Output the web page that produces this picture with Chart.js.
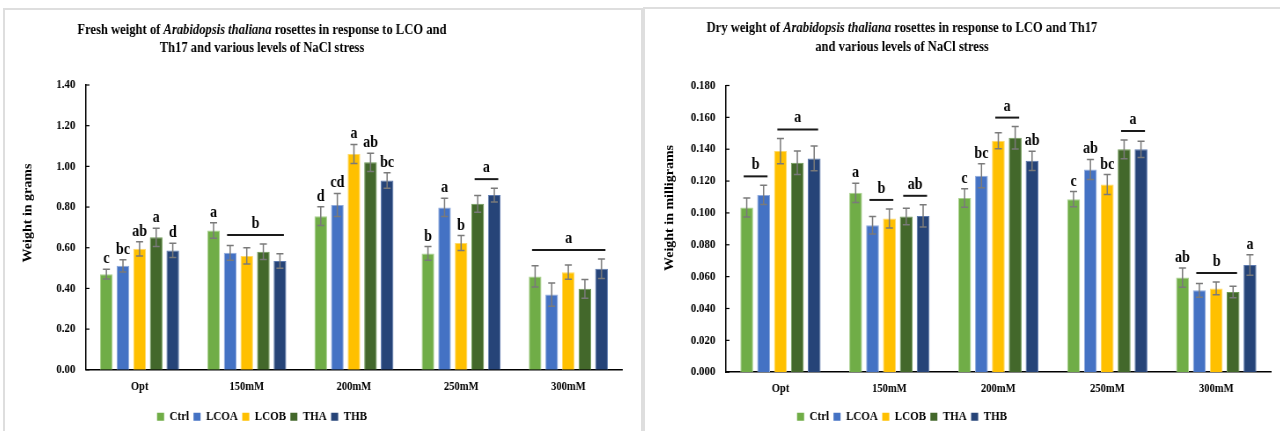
<!DOCTYPE html>
<html lang="en">
<head>
    <meta charset="UTF-8" />
    <title>Arabidopsis rosette weight under NaCl stress</title>
    <script src="https://cdn.jsdelivr.net/npm/chart.js"></script>
    <style>
        body { margin: 0; background: #fff; width: 1280px; height: 431px; overflow: hidden; position: relative; }
        .panel { position: absolute; box-sizing: border-box; border: 2px solid #dedede; border-bottom: none; overflow: hidden; background: #fff; }
        #leftPanel { left: 3px; top: 8px; width: 640px; height: 423px; }
        #rightPanel { left: 643px; top: 7px; width: 640px; height: 424px; border-right: none; }
        /* the original figure is squeezed horizontally, so the canvases are too */
        canvas { position: absolute; left: 0; top: 0; transform: scaleX(0.88); transform-origin: 0 0; }
    </style>
</head>
<body>
<div class="panel" id="leftPanel"><canvas id="freshChart" width="723" height="423"></canvas></div>
<div class="panel" id="rightPanel"><canvas id="dryChart" width="722" height="424"></canvas></div>

<script>
    const SERIF = "'Liberation Serif', 'Times New Roman', serif";

    const categories = ['Opt', '150mM', '200mM', '250mM', '300mM'];
    const seriesNames = ['Ctrl', 'LCOA', 'LCOB', 'THA', 'THB'];
    const seriesColors = ['#70AD47', '#4472C4', '#FFC000', '#43682B', '#264478'];
    const seriesEdges = ['#A9D18E', '#8FAADC', '#FFD966', '#6E9A55', '#5A78AE'];

    // fresh weight (g)
    const freshCtrl = [0.470, 0.685, 0.755, 0.572, 0.459];
    const freshLCOA = [0.511, 0.575, 0.810, 0.798, 0.370];
    const freshLCOB = [0.595, 0.560, 1.061, 0.623, 0.480];
    const freshTHA  = [0.651, 0.580, 1.020, 0.816, 0.398];
    const freshTHB  = [0.587, 0.535, 0.931, 0.859, 0.497];

    const freshCtrlErr = [0.024, 0.038, 0.046, 0.034, 0.052];
    const freshLCOAErr = [0.030, 0.036, 0.057, 0.045, 0.057];
    const freshLCOBErr = [0.035, 0.040, 0.047, 0.037, 0.035];
    const freshTHAErr  = [0.045, 0.038, 0.045, 0.041, 0.046];
    const freshTHBErr  = [0.035, 0.036, 0.038, 0.034, 0.048];

    const freshCtrlLetters = ['c', 'a', 'd', 'b', ''];
    const freshLCOALetters = ['bc', '', 'cd', 'a', ''];
    const freshLCOBLetters = ['ab', '', 'a', 'b', ''];
    const freshTHALetters  = ['a', '', 'ab', '', ''];
    const freshTHBLetters  = ['d', '', 'bc', '', ''];

    // bars sharing one letter: category, first series, last series
    const freshGroups = [
        { cat: 1, from: 1, to: 4, label: 'b' },
        { cat: 3, from: 3, to: 4, label: 'a' },
        { cat: 4, from: 0, to: 4, label: 'a' }
    ];

    // dry weight (mg)
    const dryCtrl = [0.1034, 0.1126, 0.1094, 0.1086, 0.0594];
    const dryLCOA = [0.1113, 0.0923, 0.1233, 0.1273, 0.0514];
    const dryLCOB = [0.1388, 0.0965, 0.1453, 0.1178, 0.0526];
    const dryTHA  = [0.1315, 0.0977, 0.1472, 0.1399, 0.0503];
    const dryTHB  = [0.1342, 0.0981, 0.1327, 0.1399, 0.0673];

    const dryCtrlErr = [0.0060, 0.0060, 0.0058, 0.0048, 0.0060];
    const dryLCOAErr = [0.0060, 0.0055, 0.0075, 0.0063, 0.0043];
    const dryLCOBErr = [0.0080, 0.0060, 0.0050, 0.0063, 0.0040];
    const dryTHAErr  = [0.0074, 0.0052, 0.0070, 0.0059, 0.0036];
    const dryTHBErr  = [0.0078, 0.0070, 0.0060, 0.0051, 0.0064];

    const dryCtrlLetters = ['', 'a', 'c', 'c', 'ab'];
    const dryLCOALetters = ['', '', 'bc', 'ab', ''];
    const dryLCOBLetters = ['', '', '', 'bc', ''];
    const dryTHALetters  = ['', '', '', '', ''];
    const dryTHBLetters  = ['', '', 'ab', '', 'a'];

    const dryGroups = [
        { cat: 0, from: 0, to: 1, label: 'b' },
        { cat: 0, from: 2, to: 4, label: 'a' },
        { cat: 1, from: 1, to: 2, label: 'b' },
        { cat: 1, from: 3, to: 4, label: 'ab' },
        { cat: 2, from: 2, to: 3, label: 'a' },
        { cat: 3, from: 3, to: 4, label: 'a' },
        { cat: 4, from: 1, to: 3, label: 'b' }
    ];

    const freshTitle = [
        [['Fresh weight of ', false], ['Arabidopsis thaliana', true], [' rosettes in response to LCO and', false]],
        [['Th17 and various levels of NaCl stress', false]]
    ];
    const dryTitle = [
        [['Dry weight of ', false], ['Arabidopsis thaliana', true], [' rosettes in response to LCO and Th17', false]],
        [['and various levels of NaCl stress', false]]
    ];

    // error bars, letters, group lines, inside y ticks, title and y title
    function makeMarks(spec) {
        return {
            id: 'marks',
            afterLayout(chart) {
                // legend sits under the title, not under the plot
                const lg = chart.legend;
                lg.left = 0;
                lg.right = 2 * spec.centerX;
                lg.width = lg.right;
            },
            afterDatasetsDraw(chart) {
                const ctx = chart.ctx;
                const y = chart.scales.y;
                const sets = chart.data.datasets;
                const bars = sets.map((ds, i) => chart.getDatasetMeta(i).data);
                const errTop = (i, j) => y.getPixelForValue(sets[i].data[j] + sets[i].errors[j]);

                ctx.save();
                ctx.strokeStyle = '#7a7a7a';
                ctx.lineWidth = 1.5;
                sets.forEach((ds, i) => {
                    bars[i].forEach((bar, j) => {
                        const t = errTop(i, j);
                        const b = y.getPixelForValue(ds.data[j] - ds.errors[j]);
                        ctx.beginPath();
                        ctx.moveTo(bar.x, t); ctx.lineTo(bar.x, b);
                        ctx.moveTo(bar.x - 4, t); ctx.lineTo(bar.x + 4, t);
                        ctx.moveTo(bar.x - 4, b); ctx.lineTo(bar.x + 4, b);
                        ctx.stroke();
                    });
                });

                ctx.fillStyle = '#000';
                ctx.font = 'bold 16px ' + SERIF;
                ctx.textAlign = 'center';
                ctx.textBaseline = 'alphabetic';
                sets.forEach((ds, i) => {
                    bars[i].forEach((bar, j) => {
                        if (ds.letters[j]) ctx.fillText(ds.letters[j], bar.x, errTop(i, j) - 6);
                    });
                });

                ctx.strokeStyle = '#1a1a1a';
                ctx.lineWidth = 2;
                spec.groups.forEach(g => {
                    let top = Infinity;
                    for (let k = g.from; k <= g.to; k++) top = Math.min(top, errTop(k, g.cat));
                    const ly = top - 9;
                    const x1 = bars[g.from][g.cat].x - 3.5;
                    const x2 = bars[g.to][g.cat].x + 4.5;
                    ctx.beginPath();
                    ctx.moveTo(x1, ly); ctx.lineTo(x2, ly);
                    ctx.stroke();
                    ctx.fillText(g.label, (x1 + x2) / 2, ly - 7);
                });

                // short tick marks pointing into the plot
                ctx.strokeStyle = '#000';
                ctx.lineWidth = 1.2;
                y.ticks.forEach(t => {
                    const py = y.getPixelForValue(t.value);
                    ctx.beginPath();
                    ctx.moveTo(y.right, py); ctx.lineTo(y.right + 4, py);
                    ctx.stroke();
                });
                ctx.restore();
            },
            afterDraw(chart) {
                const ctx = chart.ctx;
                ctx.save();
                ctx.fillStyle = '#000';
                ctx.textAlign = 'left';
                ctx.textBaseline = 'middle';
                spec.title.forEach((parts, li) => {
                    const fonts = parts.map(p => (p[1] ? 'italic ' : '') + 'bold 14.3px ' + SERIF);
                    const widths = parts.map((p, k) => { ctx.font = fonts[k]; return ctx.measureText(p[0]).width; });
                    let x = spec.centerX - widths.reduce((a, b) => a + b, 0) / 2;
                    parts.forEach((p, k) => {
                        ctx.font = fonts[k];
                        ctx.fillText(p[0], x, spec.titleY[li]);
                        x += widths[k];
                    });
                });

                ctx.translate(spec.yTitleX, spec.yTitleY);
                ctx.rotate(-Math.PI / 2);
                ctx.textAlign = 'center';
                ctx.font = 'bold 14px ' + SERIF;
                ctx.fillText(spec.yTitle, 0, 0);
                ctx.restore();
            }
        };
    }

    function buildChart(id, spec) {
        const datasets = seriesNames.map((name, i) => ({
            label: name,
            data: spec.values[i],
            errors: spec.errors[i],
            letters: spec.letters[i],
            backgroundColor: seriesColors[i],
            borderColor: seriesEdges[i],
            borderWidth: 1,
            barPercentage: 0.76,
            categoryPercentage: 0.774
        }));
        const boldFont = size => ({ family: SERIF, weight: 'bold', size: size });

        return new Chart(document.getElementById(id), {
            type: 'bar',
            data: { labels: categories, datasets: datasets },
            options: {
                responsive: false,
                animation: false,
                devicePixelRatio: 1,
                layout: { padding: { top: spec.padTop, right: spec.padRight, bottom: 0, left: 0 } },
                scales: {
                    x: {
                        grid: { display: false, drawTicks: false },
                        border: { display: true, color: '#000', width: 1.5 },
                        ticks: { color: '#000', font: boldFont(12), padding: 10 },
                        afterFit: s => { s.height = spec.xHeight; }
                    },
                    y: {
                        min: 0,
                        max: spec.yMax,
                        grid: { display: false, drawTicks: false },
                        border: { display: true, color: '#000', width: 1.5 },
                        ticks: {
                            stepSize: spec.yStep,
                            color: '#000',
                            font: boldFont(12.5),
                            padding: 12,
                            callback: v => v.toFixed(spec.decimals)
                        },
                        afterFit: s => { s.width = 92; }
                    }
                },
                plugins: {
                    title: { display: false },
                    tooltip: { enabled: false },
                    legend: {
                        position: 'bottom',
                        labels: {
                            boxWidth: 8,
                            boxHeight: 8,
                            padding: 5,
                            color: '#000',
                            font: boldFont(12.5),
                            generateLabels(chart) {
                                const items = Chart.defaults.plugins.legend.labels.generateLabels(chart);
                                items.forEach(it => { it.strokeStyle = it.fillStyle; it.lineWidth = 0; });
                                return items;
                            }
                        }
                    }
                }
            },
            plugins: [makeMarks(spec)]
        });
    }

    buildChart('freshChart', {
        values: [freshCtrl, freshLCOA, freshLCOB, freshTHA, freshTHB],
        errors: [freshCtrlErr, freshLCOAErr, freshLCOBErr, freshTHAErr, freshTHBErr],
        letters: [freshCtrlLetters, freshLCOALetters, freshLCOBLetters, freshTHALetters, freshTHBLetters],
        groups: freshGroups,
        title: freshTitle,
        titleY: [20, 38],
        centerX: 292,
        yTitle: 'Weight in grams',
        yTitleX: 26,
        yTitleY: 203,
        yMax: 1.4,
        yStep: 0.2,
        decimals: 2,
        padTop: 75,
        padRight: 22,
        xHeight: 35.7
    });

    buildChart('dryChart', {
        values: [dryCtrl, dryLCOA, dryLCOB, dryTHA, dryTHB],
        errors: [dryCtrlErr, dryLCOAErr, dryLCOBErr, dryTHAErr, dryTHBErr],
        letters: [dryCtrlLetters, dryLCOALetters, dryLCOBLetters, dryTHALetters, dryTHBLetters],
        groups: dryGroups,
        title: dryTitle,
        titleY: [19, 38],
        centerX: 292,
        yTitle: 'Weight in milligrams',
        yTitleX: 28.4,
        yTitleY: 199,
        yMax: 0.18,
        yStep: 0.02,
        decimals: 3,
        padTop: 76.5,
        padRight: 11,
        xHeight: 33.3
    });
</script>
</body>
</html>
